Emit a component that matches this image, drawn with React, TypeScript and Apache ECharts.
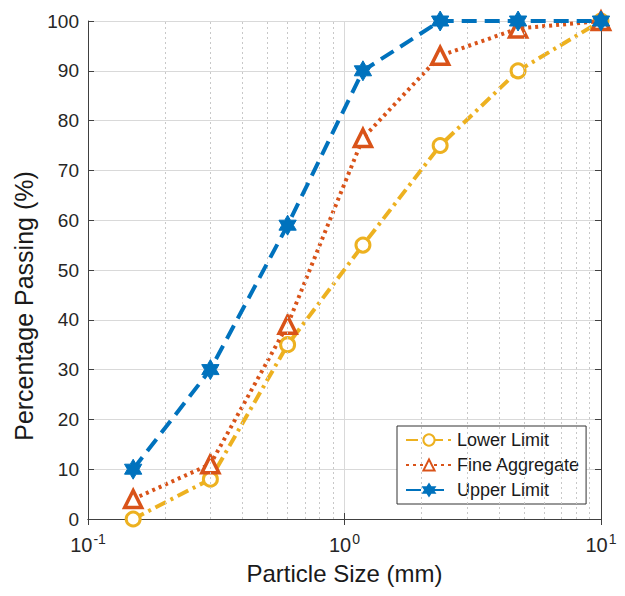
import React, { useEffect, useRef } from "react";
import * as echarts from "echarts";

const sieveSizes = [0.15, 0.3, 0.6, 1.18, 2.36, 4.75, 10];
const lowerLimit = [0, 8, 35, 55, 75, 90, 100];
const fineAggregate = [4, 11, 39, 76.5, 93, 98.5, 100];
const upperLimit = [10, 30, 59, 90, 100, 100, 100];
const minorGridValues = [0.2, 0.3, 0.4, 0.5, 0.6, 0.7, 0.8, 0.9, 2, 3, 4, 5, 6, 7, 8, 9];
const seriesNames = ["Lower Limit", "Fine Aggregate", "Upper Limit"];

const hexagram =
  "path://M0,-10 L2.887,-5 L8.66,-5 L5.774,0 L8.66,5 L2.887,5 L0,10 L-2.887,5 L-8.66,5 L-5.774,0 L-8.66,-5 L-2.887,-5 Z";

const FONT = "Liberation Sans, Arial, sans-serif";

export default function App() {
  const ref = useRef<HTMLDivElement>(null);
  useEffect(() => {
    if (!ref.current) return;
    const chart = echarts.init(ref.current, null, { renderer: "svg" });
    const pairs = (ys: number[]) => sieveSizes.map((x, i) => [x, ys[i]]);
    const axisColor = "#404040";
    chart.setOption({
      animation: false,
      backgroundColor: "#ffffff",
      textStyle: { fontFamily: FONT },
      grid: { left: 88, right: 24, top: 21, bottom: 77 },
      legend: {
        orient: "vertical",
        left: 397,
        top: 426,
        data: seriesNames,
        itemWidth: 46,
        itemHeight: 14,
        itemGap: 7,
        padding: [5, 6, 5, 8],
        borderColor: "#333333",
        borderWidth: 1,
        backgroundColor: "#ffffff",
        textStyle: { fontSize: 18, color: "#1a1a1a", fontFamily: FONT },
      },
      xAxis: [
        {
          type: "log",
          logBase: 10,
          min: 0.1,
          max: 10,
          name: "Particle Size (mm)",
          nameLocation: "middle",
          nameGap: 42,
          nameTextStyle: { fontSize: 24, color: "#1a1a1a", fontFamily: FONT },
          axisLine: { show: true, lineStyle: { color: axisColor, width: 1 } },
          axisTick: { show: true, inside: true, length: 6, lineStyle: { color: axisColor } },
          splitLine: { show: true, lineStyle: { color: "#d9d9d9", width: 1 } },
          axisLabel: {
            margin: 13,
            formatter: (v: number) => "{b|10}{s|" + Math.round(Math.log10(v)) + "}",
            rich: {
              b: { fontSize: 20, color: "#262626", fontFamily: FONT },
              s: { fontSize: 14, color: "#262626", fontFamily: FONT, verticalAlign: "top", padding: [0, 0, 12, 1] },
            },
          },
        },
        {
          type: "log",
          logBase: 10,
          min: 0.1,
          max: 10,
          position: "top",
          axisLine: { show: true, lineStyle: { color: axisColor, width: 1 } },
          axisTick: { show: true, inside: true, length: 6, lineStyle: { color: axisColor } },
          axisLabel: { show: false },
          splitLine: { show: false },
        },
      ],
      yAxis: [
        {
          type: "value",
          min: 0,
          max: 100,
          interval: 10,
          name: "Percentage Passing (%)",
          nameLocation: "middle",
          nameGap: 42,
          nameTextStyle: { fontSize: 25, color: "#1a1a1a", fontFamily: FONT, padding: [0, 72, 0, 0] },
          axisLine: { show: true, lineStyle: { color: axisColor, width: 1 } },
          axisTick: { show: true, inside: true, length: 6, lineStyle: { color: axisColor } },
          splitLine: { show: true, lineStyle: { color: "#d9d9d9", width: 1 } },
          axisLabel: { fontSize: 19, color: "#262626", margin: 9, fontFamily: FONT },
        },
        {
          type: "value",
          min: 0,
          max: 100,
          interval: 10,
          position: "right",
          axisLine: { show: true, lineStyle: { color: axisColor, width: 1 } },
          axisTick: { show: true, inside: true, length: 6, lineStyle: { color: axisColor } },
          axisLabel: { show: false },
          splitLine: { show: false },
        },
      ],
      series: [
        {
          type: "line",
          data: [],
          z: 1,
          silent: true,
          markLine: {
            silent: true,
            symbol: "none",
            label: { show: false },
            lineStyle: { type: [2, 3], color: "#c8c8c8", width: 1 },
            data: minorGridValues.map((v) => ({ xAxis: v })),
          },
        },
        {
          name: seriesNames[0],
          type: "line",
          z: 3,
          data: pairs(lowerLimit),
          symbol: "circle",
          symbolSize: 14,
          color: "#EDB120",
          itemStyle: { color: "#ffffff", borderColor: "#EDB120", borderWidth: 3 },
          lineStyle: { color: "#EDB120", width: 4, type: [12, 5, 3, 5] },
        },
        {
          name: seriesNames[1],
          type: "line",
          z: 4,
          data: pairs(fineAggregate),
          symbol: "triangle",
          symbolSize: 17,
          color: "#D95319",
          itemStyle: { color: "#ffffff", borderColor: "#D95319", borderWidth: 3.5 },
          lineStyle: { color: "#D95319", width: 4, type: [3, 4] },
        },
        {
          name: seriesNames[2],
          type: "line",
          z: 5,
          data: pairs(upperLimit),
          symbol: hexagram,
          symbolSize: 20,
          symbolKeepAspect: true,
          color: "#0072BD",
          itemStyle: { color: "#0072BD", borderColor: "#0072BD", borderWidth: 1 },
          lineStyle: { color: "#0072BD", width: 4, type: [15, 8] },
        },
      ],
    });
    return () => chart.dispose();
  }, []);
  return <div ref={ref} style={{ width: 625, height: 596, margin: -8 }} />;
}
